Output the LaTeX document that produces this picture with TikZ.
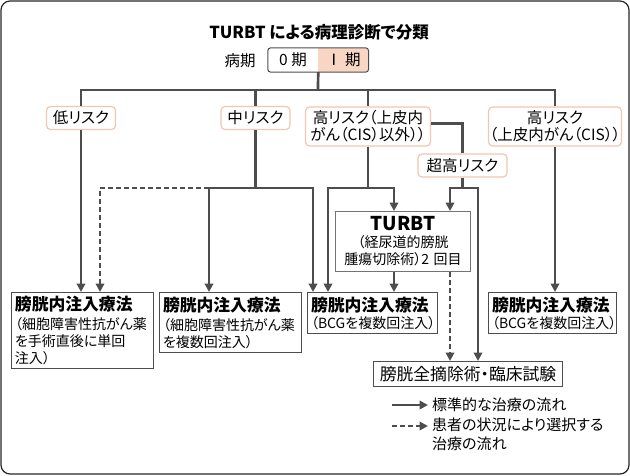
\documentclass[tikz,border=0pt]{standalone}
\usepackage{fontspec}
\setmainfont{Noto Sans CJK JP}[RawFeature=+palt]
\usetikzlibrary{arrows.meta,positioning}
\definecolor{linegray}{HTML}{4D4D4D}
\definecolor{riskline}{HTML}{F2C6B0}
\definecolor{stagefill}{HTML}{F9D6C4}
\newcommand\cureheading[1]{{\bfseries\fontsize{16.8}{19}\selectfont #1}}

\begin{document}
\begin{tikzpicture}[x=1pt,y=-1pt,>={Triangle[length=8.5pt,width=8.5pt]},
                    tree/.style=       {draw=linegray,line width=2.7pt},
                    flow/.style=       {tree,->},
                    option flow/.style={flow,dash pattern=on 5pt off 3pt},
                    stage cell/.style= {minimum width=50pt,minimum height=24pt,inner sep=0pt,font=\fontsize{15.5}{17}\selectfont},
                    risk box/.style=   {draw=riskline,line width=1.2pt,rounded corners=4pt,fill=white,inner sep=1pt,
                                        align=center,font=\fontsize{15.5}{17}\selectfont},
                    cure box/.style=   {draw=linegray,line width=1pt,anchor=north west,inner sep=3.5pt,align=left,
                                        font=\fontsize{14}{17}\selectfont}]
      \useasboundingbox (0,0) rectangle (630,475);
      \draw[line width=1.2pt,draw=black!85,rounded corners=9pt] (1,1) rectangle (629,474);
      % heading and stage
      \node[font=\bfseries\fontsize{16.5}{19}\selectfont] (title) at (319,32) {TURBT による病理診断で分類};
      \node[font=\fontsize{15.5}{17}\selectfont] (stagename) at (240,61) {病期};
      \node[stage cell] (s0) at (293,60) {0 期};
      \node[stage cell, fill=stagefill, right=0pt of s0] (s1) {Ⅰ 期};
      \draw[draw=linegray,line width=1pt,rounded corners=3pt] (s0.north west) rectangle (s1.south east);
      % risk groups
      \node[risk box, minimum width=69pt, minimum height=23pt] (low) at (81,118) {低リスク};
      \node[risk box, minimum width=69pt, minimum height=23pt] (mid) at (255.5,118) {中リスク};
      \node[risk box, minimum width=125pt, minimum height=39pt] (highA) at (368,126.5) {高リスク（上皮内\\がん（CIS）以外））};
      \node[risk box, minimum width=128pt, minimum height=39pt] (highB) at (555,126.5) {高リスク\\（上皮内がん（CIS））};
      \node[risk box, minimum width=89pt, minimum height=23pt] (vhigh) at (462.5,165.5) {超高リスク};
      % treatments
      \node[cure box, text width=135pt, minimum height=75pt] (c1) at (11,292) {\cureheading{膀胱内注入療法}\\[2pt]（細胞障害性抗がん薬\\を手術直後に単回\\注入）};
      \node[cure box, text width=135pt, minimum height=60pt] (c2) at (159,292) {\cureheading{膀胱内注入療法}\\[2pt]（細胞障害性抗がん薬\\を複数回注入）};
      \node[cure box, text width=123pt, minimum height=41pt] (c3) at (307,292) {\cureheading{膀胱内注入療法}\\（BCGを複数回注入）};
      \node[cure box, text width=121pt, minimum height=41pt] (c4) at (488,292) {\cureheading{膀胱内注入療法}\\（BCGを複数回注入）};
      \node[cure box, draw=black!55, align=center, text width=128pt, minimum height=60pt] (turbt) at (335,211)
           {{\bfseries\fontsize{19}{20}\selectfont TURBT}\\（経尿道的膀胱\\腫瘍切除術）2 回目};
      \node[cure box, align=center, text width=185pt, minimum height=25pt, inner sep=2pt, font=\fontsize{16.8}{18}\selectfont] (cyst) at (373,361) {膀胱全摘除術・臨床試験};
      % tree
      \coordinate (bar) at (318,90);
      \draw[tree] (s0.south east) -- (bar);
      \draw[tree] (low.north) |- (bar) -| (highB.north);
      \draw[tree] (mid.north) -- (mid.north |- bar);
      \draw[tree] (highA.north) -- (highA.north |- bar);
      \coordinate (m1) at (209,188);
      \coordinate (m2) at (313,188);
      \coordinate (d1) at (100,188);
      \coordinate (h1) at (328,188);
      \coordinate (h2) at (394,188);
      \coordinate (v1) at (450,188);
      \coordinate (v2) at (478,188);
      \draw[flow] (low.south) -- (low.south |- c1.north);
      \draw[option flow] (m1) -- (d1) -- (d1 |- c1.north);
      \draw[flow] (mid.south) |- (m1) -- (m1 |- c2.north);
      \draw[flow] (mid.south) |- (m2) -- (m2 |- c3.north);
      \draw[flow] (highA.south) |- (h1) -- (h1 |- c3.north);
      \draw[flow] (highA.south) |- (h2) -- (h2 |- turbt.north);
      \draw[tree] ([yshift=3pt]highA.east) -| (vhigh.north);
      \draw[flow] (vhigh.south) |- (v1) -- (v1 |- turbt.north);
      \draw[flow] (vhigh.south) |- (v2) -- (v2 |- cyst.north);
      \draw[flow] (h2 |- turbt.south) -- (h2 |- c3.north);
      \draw[option flow] (v1 |- turbt.south) -- (v1 |- cyst.north);
      \draw[flow] (highB.south) -- (highB.south |- c4.north);
      % legend
      \coordinate (l1) at (392,405);
      \coordinate (l2) at (392,426);
      \node[anchor=west, inner sep=4pt, font=\fontsize{15}{17}\selectfont] (solidtext) at (428,405) {標準的な治療の流れ};
      \node[anchor=north west, inner sep=4pt, align=left, font=\fontsize{15}{19}\selectfont] (dashtext) at (428,413.5) {患者の状況により選択する\\治療の流れ};
      \draw[flow] (l1) -- (l1 -| solidtext.west);
      \draw[option flow] (l2) -- (l2 -| dashtext.west);
\end{tikzpicture}
\end{document}
